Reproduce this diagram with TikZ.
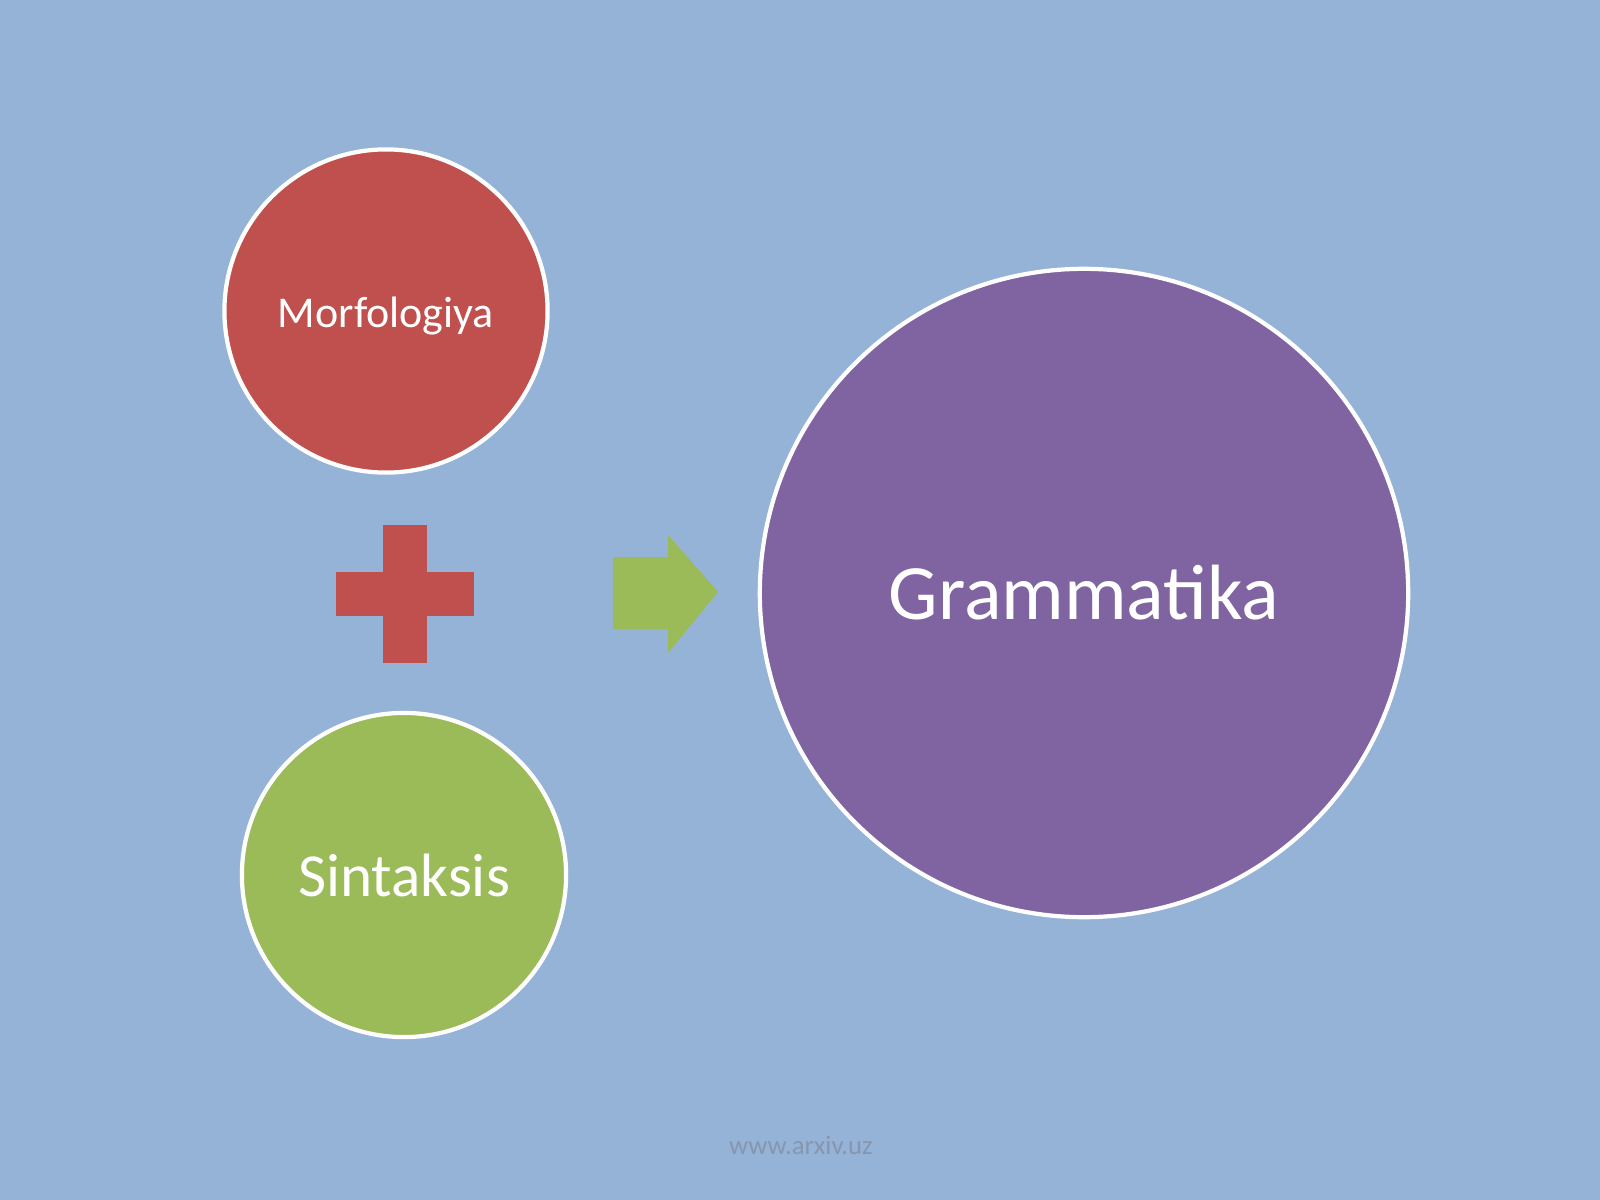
\documentclass[tikz,border=0pt]{standalone}
\usepackage{fontspec}
\setmainfont{Carlito}
\usetikzlibrary{shapes,positioning}
\definecolor{slideblue}{HTML}{95B3D7}
\definecolor{brickred}{HTML}{C0504D}
\definecolor{olivegreen}{HTML}{9BBB59}
\definecolor{lavender}{HTML}{8064A2}
\definecolor{footgray}{HTML}{8796AE}

\begin{document}
\begin{tikzpicture}[x=0.01cm, y=-0.01cm]
    \fill[slideblue] (0,0) rectangle (1600,1200);
    \useasboundingbox (0,0) rectangle (1600,1200);

    \node[fill=brickred, circle, draw=white, line width=1.2pt, minimum size=3.23cm, text=white, text height=11.8pt, text depth=2.6pt, font=\fontsize{12.5}{14}\selectfont] (morf) at (386,311) {Morfologiya};
    \node[fill=olivegreen, circle, draw=white, line width=1.2pt, minimum size=3.24cm, text=white, font=\fontsize{17.4}{20}\selectfont] (sint) at (404,875) {Sintaksis};
    \node[fill=lavender, circle, draw=white, line width=1.2pt, minimum size=6.48cm, text=white, font=\fontsize{22.3}{26}\selectfont] (gram) at (1084,593) {Grammatika};

    % Plus sign
    \fill[brickred] (383,525) rectangle (427,663);
    \fill[brickred] (336,572) rectangle (474,616);

    % Arrow
    \fill[olivegreen] (613,557) -- (668,557) -- (668,535) -- (718,592) -- (668,653) -- (668,629) -- (613,629) -- cycle;

    \node[text=footgray, font=\fontsize{7.6}{9}\selectfont] (foot) at (801,1145) {www.arxiv.uz};
\end{tikzpicture}
\end{document}
